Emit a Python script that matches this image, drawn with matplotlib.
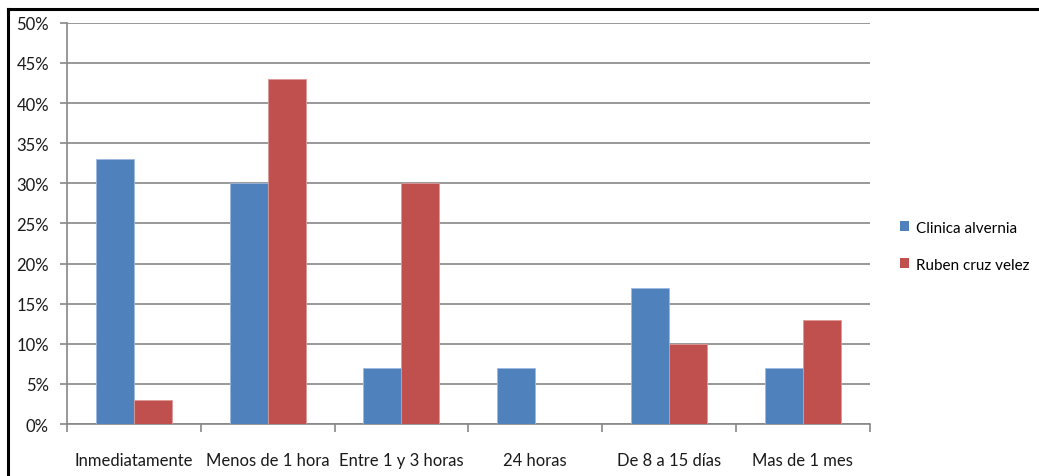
import matplotlib

matplotlib.use("Agg")
import matplotlib.pyplot as plt
import numpy as np
from matplotlib.lines import Line2D
from matplotlib.patches import Patch

categorias = ["Inmediatamente", "Menos de 1 hora", "Entre 1 y 3 horas",
              "24 horas", "De 8 a 15 días", "Mas de 1 mes"]
clinica_alvernia = [33, 30, 7, 7, 17, 7]
ruben_cruz_velez = [3, 43, 30, 0, 10, 13]
series = ["Clinica alvernia", "Ruben cruz velez"]

AZUL = "#4F81BD"
ROJO = "#C0504D"
GRIS = "#878787"
TINTA = "#1a1a1a"

plt.rcParams["font.family"] = ["Lato", "DejaVu Sans"]
plt.rcParams["font.size"] = 12

fig = plt.figure(figsize=(10.39, 4.77), dpi=100)
ax = fig.add_axes((0.0645, 0.109, 0.7725, 0.841))

x = np.arange(len(categorias))
w = 0.284
ax.bar(x - w / 2, clinica_alvernia, width=w, color=AZUL, edgecolor="#9DB9DE",
       linewidth=0.6, zorder=3)
ax.bar(x + w / 2, ruben_cruz_velez, width=w, color=ROJO, edgecolor="#DC9896",
       linewidth=0.6, zorder=3)

ax.set_xlim(-0.5, len(categorias) - 0.5)
ax.set_ylim(0, 50)
ax.set_yticks(np.arange(0, 51, 5))
ax.set_yticklabels([f"{v}%" for v in range(0, 51, 5)], color=TINTA)
ax.yaxis.grid(True, color=GRIS, linewidth=1.2, zorder=0)
ax.tick_params(axis="y", length=5, width=1.2, color=GRIS, pad=8)

# marcas del eje x en los límites entre categorías
ax.set_xticks(np.arange(-0.5, len(categorias) + 0.5, 1))
ax.set_xticklabels([])
ax.set_xticks(x, minor=True)
ax.set_xticklabels(categorias, minor=True, color=TINTA)
ax.tick_params(axis="x", which="major", length=6, width=1.2, color=GRIS, direction="out")
ax.tick_params(axis="x", which="minor", length=0, pad=20)

for s in ("top", "right"):
    ax.spines[s].set_visible(False)
for s in ("left", "bottom"):
    ax.spines[s].set_color(GRIS)
    ax.spines[s].set_linewidth(1.2)

handles = [Patch(facecolor=AZUL), Patch(facecolor=ROJO)]
fig.legend(handles, series, loc="center left", bbox_to_anchor=(0.853, 0.482),
           frameon=False, handlelength=0.6, handleheight=0.6, handletextpad=0.45,
           labelspacing=1.5, fontsize=11)

# marco negro superior e izquierdo
fig.add_artist(Line2D([0.008, 1.0], [0.979, 0.979], color="black", linewidth=2.2,
                      transform=fig.transFigure))
fig.add_artist(Line2D([0.008, 0.008], [0.0, 0.979], color="black", linewidth=2.2,
                      transform=fig.transFigure))

fig.savefig("out.png", dpi=100, facecolor="white")
